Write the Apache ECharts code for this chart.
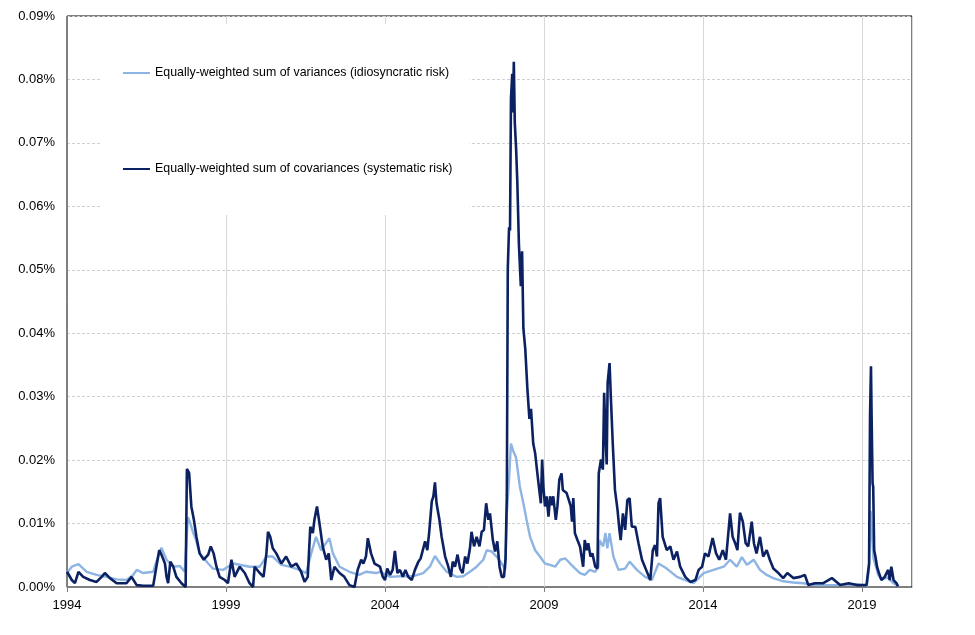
<!DOCTYPE html>
<html>
<head>
<meta charset="utf-8">
<script src="https://cdn.jsdelivr.net/npm/echarts@6/dist/echarts.min.js"></script>
<style>
  html, body { margin: 0; padding: 0; background: #fff; }
  #chart { width: 975px; height: 635px; }
</style>
</head>
<body>
<div id="chart"></div>
<script>
// años desde 1994 (eje x) y valores en %
const baseYear = 1994;

const legendNames = [
  "Equally-weighted sum of variances (idiosyncratic risk)",
  "Equally-weighted sum of covariances (systematic risk)",
];

// varianzas (riesgo idiosincrático)
const idioT = [
  0.00, 0.15, 0.36, 0.62, 0.93, 1.24, 1.56, 1.87, 2.08, 2.19, 2.40, 2.71, 2.81, 2.97, 3.13, 3.34,
  3.55, 3.70, 3.76, 3.80, 3.88, 3.97, 4.05, 4.17, 4.44, 4.59, 4.91, 5.22, 5.43, 5.74, 6.06, 6.27,
  6.47, 6.74, 7.00, 7.31, 7.52, 7.68, 7.83, 7.99, 8.25, 8.36, 8.57, 8.88, 9.19, 9.40, 9.72, 9.84,
  10.16, 10.47, 10.89, 11.20, 11.41, 11.57, 11.73, 11.94, 12.25, 12.46, 12.67, 12.88, 13.09, 13.20,
  13.35, 13.51, 13.67, 13.78, 13.83, 13.90, 13.96, 14.04, 14.12, 14.24, 14.35, 14.45, 14.56, 14.72,
  14.87, 15.03, 15.19, 15.35, 15.51, 15.67, 15.82, 15.98, 16.13, 16.28, 16.44, 16.61, 16.71, 16.74,
  16.86, 16.93, 16.99, 17.06, 17.18, 17.34, 17.55, 17.69, 17.92, 18.18, 18.39, 18.60, 18.86, 19.18,
  19.44, 19.70, 20.02, 20.33, 20.65, 20.85, 21.06, 21.22, 21.38, 21.59, 21.79, 22.00, 22.21, 22.52,
  22.84, 23.15, 23.57, 24.10, 24.84, 25.15, 25.22, 25.27, 25.31, 25.36, 25.42, 25.50, 25.60, 25.80,
  25.98, 26.13,
];
const idioV = [
  0.0022, 0.0032, 0.0036, 0.0024, 0.0019, 0.0016, 0.0012, 0.0011, 0.0019, 0.0027, 0.0022, 0.0024, 0.0040, 0.0062, 0.0043, 0.0032,
  0.0033, 0.0024, 0.0024, 0.0110, 0.0100, 0.0085, 0.0075, 0.0053, 0.0037, 0.0029, 0.0027, 0.0037, 0.0035, 0.0032, 0.0032, 0.0048,
  0.0048, 0.0035, 0.0032, 0.0027, 0.0022, 0.0053, 0.0079, 0.0058, 0.0077, 0.0053, 0.0032, 0.0024, 0.0019, 0.0024, 0.0022, 0.0024,
  0.0016, 0.0017, 0.0017, 0.0022, 0.0032, 0.0049, 0.0037, 0.0024, 0.0016, 0.0017, 0.0024, 0.0032, 0.0043, 0.0058,
  0.0056, 0.0048, 0.0037, 0.0027, 0.0116, 0.0171, 0.0226, 0.0213, 0.0204, 0.0158, 0.0132, 0.0106, 0.0079, 0.0058,
  0.0048, 0.0037, 0.0035, 0.0032, 0.0043, 0.0045, 0.0037, 0.0029, 0.0022, 0.0019, 0.0027, 0.0024, 0.0032, 0.0074,
  0.0064, 0.0085, 0.0061, 0.0085, 0.0048, 0.0027, 0.0029, 0.0040, 0.0027, 0.0016, 0.0011, 0.0037, 0.0029, 0.0016,
  0.0011, 0.0006, 0.0022, 0.0027, 0.0032, 0.0043, 0.0032, 0.0047, 0.0035, 0.0043, 0.0027, 0.0019, 0.0014, 0.0009,
  0.0007, 0.0006, 0.0003, 0.0003, 0.0004, 0.0002, 0.0030, 0.0120, 0.0085, 0.0045, 0.0035, 0.0020, 0.0012, 0.0015,
  0.0006, 0.0002,
];

// covarianzas (riesgo sistemático)
const sysT = [
  0.00, 0.15, 0.25, 0.36, 0.51, 0.72, 0.93, 1.09, 1.19, 1.35, 1.56, 1.87, 2.03, 2.19, 2.40, 2.71,
  2.81, 2.90, 2.97, 3.08, 3.13, 3.18, 3.25, 3.34, 3.44, 3.60, 3.73, 3.76, 3.77, 3.84, 3.91, 3.99,
  4.07, 4.17, 4.30, 4.44, 4.52, 4.61, 4.70, 4.80, 4.96, 5.06, 5.17, 5.27, 5.43, 5.59, 5.74, 5.85,
  5.90, 6.06, 6.18, 6.27, 6.32, 6.39, 6.47, 6.58, 6.74, 6.89, 7.05, 7.21, 7.36, 7.47, 7.57, 7.65,
  7.73, 7.78, 7.86, 7.94, 8.04, 8.15, 8.23, 8.31, 8.41, 8.57, 8.72, 8.88, 9.04, 9.14, 9.25, 9.32,
  9.40, 9.46, 9.56, 9.67, 9.84, 9.93, 10.00, 10.07, 10.16, 10.24, 10.31, 10.39, 10.47, 10.56, 10.64, 10.73,
  10.84, 10.94, 11.05, 11.12, 11.18, 11.26, 11.33, 11.39, 11.47, 11.52, 11.57, 11.62, 11.71, 11.78, 11.89, 11.99,
  12.07, 12.13, 12.20, 12.28, 12.36, 12.44, 12.52, 12.59, 12.67, 12.72, 12.80, 12.88, 12.97, 13.04, 13.11, 13.18,
  13.25, 13.30, 13.39, 13.46, 13.53, 13.60, 13.67, 13.74, 13.79, 13.83, 13.86, 13.90, 13.93, 13.96, 14.00, 14.02,
  14.05, 14.08, 14.12, 14.16, 14.21, 14.27, 14.31, 14.35, 14.41, 14.48, 14.54, 14.59, 14.66, 14.72, 14.79, 14.85,
  14.90, 14.94, 14.98, 15.03, 15.08, 15.14, 15.19, 15.24, 15.29, 15.37, 15.42, 15.48, 15.55, 15.59, 15.65, 15.71,
  15.78, 15.84, 15.88, 15.92, 15.97, 16.05, 16.13, 16.18, 16.23, 16.28, 16.34, 16.39, 16.46, 16.52, 16.61, 16.68,
  16.72, 16.79, 16.85, 16.89, 16.93, 16.97, 17.00, 17.06, 17.10, 17.16, 17.23, 17.31, 17.37, 17.41, 17.48, 17.55,
  17.62, 17.69, 17.76, 17.87, 17.97, 18.08, 18.21, 18.34, 18.42, 18.49, 18.55, 18.60, 18.65, 18.73, 18.86, 18.97,
  19.07, 19.18, 19.28, 19.44, 19.60, 19.76, 19.86, 19.97, 20.06, 20.17, 20.30, 20.41, 20.51, 20.62, 20.72, 20.85,
  20.93, 21.01, 21.08, 21.16, 21.25, 21.34, 21.42, 21.53, 21.60, 21.68, 21.79, 21.89, 22.00, 22.10, 22.21, 22.37,
  22.52, 22.65, 22.84, 23.05, 23.20, 23.31, 23.52, 23.78, 24.05, 24.31, 24.58, 24.84, 25.14, 25.22, 25.25, 25.28,
  25.30, 25.33, 25.35, 25.38, 25.42, 25.47, 25.53, 25.61, 25.71, 25.82, 25.87, 25.92, 25.99, 26.08, 26.13,
];
const sysV = [
  0.0024, 0.0011, 0.0006, 0.0024, 0.0016, 0.0011, 0.0008, 0.0016, 0.0022, 0.0014, 0.0006, 0.0006, 0.0016, 0.0003, 0.0002, 0.0002,
  0.0032, 0.0058, 0.0051, 0.0037, 0.0016, 0.0006, 0.0040, 0.0032, 0.0016, 0.0006, 0.0000, 0.0000, 0.0186, 0.0180, 0.0127, 0.0106,
  0.0079, 0.0053, 0.0043, 0.0051, 0.0064, 0.0053, 0.0032, 0.0016, 0.0011, 0.0006, 0.0043, 0.0016, 0.0032, 0.0022, 0.0006, 0.0000,
  0.0032, 0.0022, 0.0016, 0.0053, 0.0087, 0.0079, 0.0061, 0.0053, 0.0037, 0.0048, 0.0032, 0.0037, 0.0024, 0.0008, 0.0016, 0.0095,
  0.0085, 0.0106, 0.0127, 0.0100, 0.0064, 0.0043, 0.0053, 0.0011, 0.0032, 0.0022, 0.0016, 0.0003, 0.0000, 0.0027, 0.0043, 0.0037,
  0.0048, 0.0077, 0.0053, 0.0037, 0.0032, 0.0016, 0.0011, 0.0029, 0.0019, 0.0027, 0.0057, 0.0022, 0.0027, 0.0016, 0.0027, 0.0016,
  0.0011, 0.0027, 0.0040, 0.0045, 0.0043, 0.0072, 0.0058, 0.0087, 0.0135, 0.0143, 0.0165, 0.0132, 0.0106, 0.0079, 0.0048, 0.0032,
  0.0016, 0.0040, 0.0032, 0.0051, 0.0029, 0.0022, 0.0048, 0.0037, 0.0061, 0.0087, 0.0064, 0.0079, 0.0064, 0.0087, 0.0090, 0.0132,
  0.0106, 0.0116, 0.0074, 0.0056, 0.0072, 0.0032, 0.0016, 0.0016, 0.0045, 0.0144, 0.0501, 0.0567, 0.0562, 0.0770, 0.0809, 0.0748,
  0.0828, 0.0732, 0.0693, 0.0638, 0.0540, 0.0474, 0.0529, 0.0408, 0.0375, 0.0309, 0.0265, 0.0281, 0.0226, 0.0211, 0.0179, 0.0153,
  0.0132, 0.0201, 0.0158, 0.0127, 0.0143, 0.0111, 0.0143, 0.0129, 0.0143, 0.0106, 0.0127, 0.0169, 0.0179, 0.0153, 0.0153, 0.0148,
  0.0137, 0.0127, 0.0103, 0.0140, 0.0085, 0.0074, 0.0064, 0.0048, 0.0032, 0.0074, 0.0058, 0.0069, 0.0048, 0.0053, 0.0032, 0.0029,
  0.0179, 0.0201, 0.0185, 0.0306, 0.0243, 0.0193, 0.0322, 0.0353, 0.0300, 0.0227, 0.0153, 0.0122, 0.0090, 0.0074, 0.0116, 0.0090,
  0.0137, 0.0140, 0.0095, 0.0095, 0.0069, 0.0043, 0.0027, 0.0011, 0.0058, 0.0066, 0.0048, 0.0132, 0.0140, 0.0079, 0.0058, 0.0064,
  0.0043, 0.0056, 0.0032, 0.0016, 0.0008, 0.0011, 0.0027, 0.0032, 0.0053, 0.0048, 0.0077, 0.0053, 0.0043, 0.0058, 0.0043, 0.0116,
  0.0079, 0.0069, 0.0058, 0.0117, 0.0103, 0.0069, 0.0064, 0.0103, 0.0069, 0.0053, 0.0079, 0.0048, 0.0058, 0.0043, 0.0029, 0.0022,
  0.0014, 0.0022, 0.0014, 0.0016, 0.0019, 0.0003, 0.0006, 0.0006, 0.0014, 0.0003, 0.0006, 0.0003, 0.0003, 0.0037, 0.0269, 0.0348,
  0.0269, 0.0164, 0.0158, 0.0058, 0.0048, 0.0032, 0.0022, 0.0011, 0.0016, 0.0027, 0.0011, 0.0032, 0.0011, 0.0006, 0.0001,
];

function zip(ts, vs) {
  return ts.map(function (t, i) {
    return [t, vs[i]];
  });
}

const fuente = "'Liberation Sans', Arial, sans-serif";

const option = {
  animation: false,
  backgroundColor: "#fff",
  grid: {
    left: 67,
    right: 63,
    top: 16,
    bottom: 48,
    show: true,
    borderColor: "#000",
    borderWidth: 1,
  },
  legend: {
    orient: "vertical",
    left: 102,
    top: 24,
    backgroundColor: "#fff",
    padding: [43, 17, 40, 21],
    itemGap: 84,
    itemWidth: 27,
    itemHeight: 2,
    icon: "rect",
    textStyle: { fontFamily: fuente, fontSize: 12.4, color: "#000" },
    data: legendNames,
    z: 3,
  },
  xAxis: {
    type: "value",
    min: 0,
    max: 26.57,
    interval: 5,
    axisLine: { lineStyle: { color: "#7f7f7f", width: 1 } },
    axisTick: { show: true, length: 5, lineStyle: { color: "#7f7f7f" } },
    axisLabel: {
      color: "#000",
      fontFamily: fuente,
      fontSize: 13,
      margin: 12,
      showMaxLabel: false,
      formatter: function (v) {
        return String(baseYear + v);
      },
    },
    splitLine: { show: true, lineStyle: { color: "#d9d9d9", width: 1 } },
  },
  yAxis: {
    type: "value",
    min: 0,
    max: 0.09,
    interval: 0.01,
    axisLine: { show: true, lineStyle: { color: "#7f7f7f", width: 1 } },
    axisTick: { show: false },
    axisLabel: {
      color: "#000",
      fontFamily: fuente,
      fontSize: 13,
      margin: 12,
      formatter: function (v) {
        return v.toFixed(2) + "%";
      },
    },
    splitLine: { show: true, lineStyle: { color: "#d0d0d0", type: [3, 2], width: 1 } },
  },
  series: [
    {
      name: legendNames[0],
      type: "line",
      data: zip(idioT, idioV),
      showSymbol: false,
      symbol: "none",
      lineStyle: { color: "#8db4e2", width: 2.4 },
      itemStyle: { color: "#8db4e2" },
      z: 2,
    },
    {
      name: legendNames[1],
      type: "line",
      data: zip(sysT, sysV),
      showSymbol: false,
      symbol: "none",
      lineStyle: { color: "#0b2162", width: 2.6 },
      itemStyle: { color: "#0b2162" },
      z: 2,
    },
  ],
};

var myChart = echarts.init(document.getElementById("chart"));
myChart.setOption(option);
</script>
</body>
</html>
